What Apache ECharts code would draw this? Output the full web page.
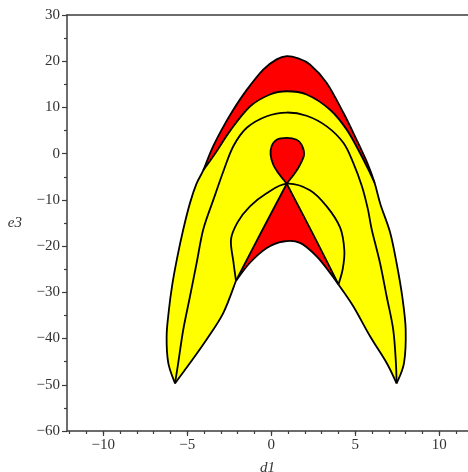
<!DOCTYPE html>
<html><head><meta charset="utf-8">
<script src="https://cdn.jsdelivr.net/npm/echarts@6/dist/echarts.min.js"></script>
<style>html,body{margin:0;padding:0;background:#fff}#c{width:468px;height:472px}</style>
</head><body><div id="c"></div>
<script>
// ---- data (d1, e3) ----
const outerLeft  = [[-5.73,-49.7],[-6.13,-45.3],[-6.23,-39.5],[-6.1,-34],[-5.9,-28.5],[-5.6,-22.5],[-5.24,-16.4],[-4.84,-10.7],[-4.45,-6.5]];
const outerTop   = [[-4.05,-3.6],[-3.55,0.9],[-2.95,5.2],[-2.26,9.5],[-1.46,13.8],[-0.48,18.2],[0.32,20.4],[0.92,21.1],[1.6,20.6],[2.3,19.3],[3.3,15.3],[4.3,8.8],[5.08,3.0],[5.75,-2.3],[6.15,-6.3]];
const outerRight = [[6.5,-11],[7.07,-17],[7.45,-23.5],[7.8,-31],[8.0,-38],[7.9,-45.3],[7.46,-49.7]];
const bandInner  = [[-4.05,-3.6],[-3.35,0],[-2.4,5.2],[-1.27,10.2],[-0.08,12.8],[0.92,13.5],[2.1,12.8],[3.5,9.5],[4.49,5.2],[5.28,0.15],[5.88,-4.2],[6.15,-6.3]];
const innerLeft  = [[-5.73,-49.7],[-4.84,-45.3],[-3.85,-40.2],[-2.86,-34.5],[-2.1,-27.5]];
const innerBottom= [[-2.1,-27.5],[-1.27,-23.6],[-0.27,-20.4],[0.72,-19.0],[1.71,-19.3],[2.7,-22.2],[3.5,-25.8],[4.0,-28.3]];
const innerRight = [[4.0,-28.3],[4.88,-33.0],[5.88,-39.5],[6.87,-45.3],[7.46,-49.7]];
const curveC     = [[-5.73,-49.7],[-5.54,-45.3],[-5.24,-38.1],[-4.84,-30.9],[-4.44,-23.6],[-4.05,-16.4],[-3.45,-10],[-2.85,-3.8],[-2.26,1.6],[-1.46,5.6],[-0.27,8.1],[0.92,8.9],[2.1,8.2],[3.3,5.9],[4.3,2.3],[4.88,-2.0],[5.4,-7.1],[5.75,-12],[5.98,-16.4],[6.47,-23.6],[6.87,-30.9],[7.26,-38.1],[7.42,-45.3],[7.46,-49.7]];
const curveD     = [[-2.1,-27.5],[-2.25,-23.5],[-2.4,-18.6],[-2.0,-14.8],[-1.27,-11.4],[-0.3,-8.6],[0.92,-6.5],[2.3,-7.9],[3.3,-11.4],[4.1,-16],[4.35,-21],[4.25,-25],[4.0,-28.3]];
const legLeft    = [[0.92,-6.5],[-0.6,-17],[-2.1,-27.5]];
const legRight   = [[0.92,-6.5],[2.5,-17.5],[4.0,-28.3]];
const loopCurve  = [[0.92,-6.5],[0.72,-5.6],[0.42,-4.2],[0.12,-2.4],[-0.04,-0.2],[0.02,1.6],[0.32,3.0],[0.92,3.4],[1.51,3.0],[1.81,1.9],[1.95,-0.2],[1.71,-2.4],[1.41,-4.2],[1.11,-5.6],[0.92,-6.5]];
const xMajor = [-10,-5,0,5,10];
const xMinor = [-12,-11,-10,-9,-8,-7,-6,-5,-4,-3,-2,-1,0,1,2,3,4,5,6,7,8,9,10,11];
const yMin = -60, yMax = 30, yStep = 10;
const xMin = -12.16, xMax = 11.71;

const RED = '#ff0000', YEL = '#ffff00', INK = '#000';
const AX = '#3c3c3c';
const FONT = 'Liberation Serif';

function rev(a){ return a.slice().reverse(); }
// smooth piece (Catmull-Rom -> Bezier) in pixel space; endpoints kept sharp
function piece(api, arr, start){
  const p = [];
  arr.forEach(d => { const c = api.coord(d); const l = p[p.length-1]; if(!l || Math.abs(l[0]-c[0])>0.01 || Math.abs(l[1]-c[1])>0.01) p.push(c); });
  let s = start ? ('M' + p[0][0] + ' ' + p[0][1]) : ('L' + p[0][0] + ' ' + p[0][1]);
  for (let i = 0; i < p.length-1; i++){
    const p0 = p[Math.max(i-1,0)], p1 = p[i], p2 = p[i+1], p3 = p[Math.min(i+2,p.length-1)];
    const c1 = [p1[0]+(p2[0]-p0[0])/6, p1[1]+(p2[1]-p0[1])/6];
    const c2 = [p2[0]-(p3[0]-p1[0])/6, p2[1]-(p3[1]-p1[1])/6];
    s += ' C' + c1[0]+' '+c1[1]+' '+c2[0]+' '+c2[1]+' '+p2[0]+' '+p2[1];
  }
  return s;
}
function shape(api, pieces, close){
  let s = '';
  pieces.forEach((a,i) => { s += (i? ' ' : '') + piece(api, a, i===0); });
  return close ? s + ' Z' : s;
}
function fillEl(d, color){ return {type:'path', shape:{pathData:d}, style:{fill:color, stroke:null}}; }
function lineEl(d){ return {type:'path', shape:{pathData:d}, style:{fill:null, stroke:INK, lineWidth:1.8, lineJoin:'round'}}; }

const outerAll = outerLeft.concat(outerTop, outerRight);

const chart = echarts.init(document.getElementById('c'));
chart.setOption({
  animation:false,
  backgroundColor:'#fff',
  grid:{left:67, right:0, top:15, bottom:41, show:false, containLabel:false, outerBoundsMode:'none'},
  xAxis:[{
    type:'value', min:xMin, max:xMax, position:'bottom',
    name:'d1', nameLocation:'middle', nameGap:30,
    nameTextStyle:{fontFamily:FONT, fontStyle:'italic', fontSize:15, color:'#333'},
    axisLine:{show:true, onZero:false, lineStyle:{color:AX, width:1.5}},
    axisTick:{show:true, customValues:xMajor, length:5, lineStyle:{color:AX, width:1.2}},
    axisLabel:{customValues:xMajor, margin:7, fontFamily:FONT, fontSize:15, color:'#333',
      formatter: v => String(v).replace('-', '\u2212')},
    splitLine:{show:false}
  },{
    type:'value', min:xMin, max:xMax, position:'bottom', offset:0,
    axisLine:{show:false, onZero:false},
    axisTick:{show:true, customValues:xMinor, length:3, lineStyle:{color:AX, width:1.2}},
    axisLabel:{show:false}, splitLine:{show:false}
  },{
    type:'value', min:xMin, max:xMax, position:'top', offset:0,
    axisLine:{show:true, onZero:false, lineStyle:{color:AX, width:1.5}},
    axisTick:{show:false}, axisLabel:{show:false}, splitLine:{show:false}
  }],
  yAxis:{
    type:'value', min:yMin, max:yMax, interval:yStep,
    name:'e3', nameLocation:'middle', nameRotate:0, nameGap:45,
    nameTextStyle:{fontFamily:FONT, fontStyle:'italic', fontSize:15, color:'#333', padding:[10,0,0,0]},
    axisLine:{show:true, onZero:false, lineStyle:{color:AX, width:1.5}},
    axisTick:{show:true, length:5, lineStyle:{color:AX, width:1.2}},
    minorTick:{show:true, splitNumber:2, length:3, lineStyle:{color:AX, width:1.2}},
    axisLabel:{margin:7, fontFamily:FONT, fontSize:15, color:'#333',
      formatter: v => String(v).replace('-', '\u2212')},
    splitLine:{show:false}
  },
  series:[{
    type:'custom', coordinateSystem:'cartesian2d', xAxisIndex:0, yAxisIndex:0,
    data:[[0,0]], clip:true, silent:true,
    renderItem:(params, api) => ({
      type:'group',
      children:[
        fillEl(shape(api,[outerAll, rev(innerRight), rev(innerBottom), rev(innerLeft)], true), YEL),
        fillEl(shape(api,[outerTop, rev(bandInner)], true), RED),
        fillEl(shape(api,[legLeft, innerBottom, rev(legRight)], true), RED),
        fillEl(shape(api,[loopCurve], true), RED),
        lineEl(shape(api,[outerAll])),
        lineEl(shape(api,[innerLeft])),
        lineEl(shape(api,[innerBottom])),
        lineEl(shape(api,[innerRight])),
        lineEl(shape(api,[bandInner])),
        lineEl(shape(api,[curveC])),
        lineEl(shape(api,[curveD])),
        lineEl(shape(api,[legLeft])),
        lineEl(shape(api,[legRight])),
        lineEl(shape(api,[loopCurve]))
      ]
    })
  }]
});
</script>
</body></html>
